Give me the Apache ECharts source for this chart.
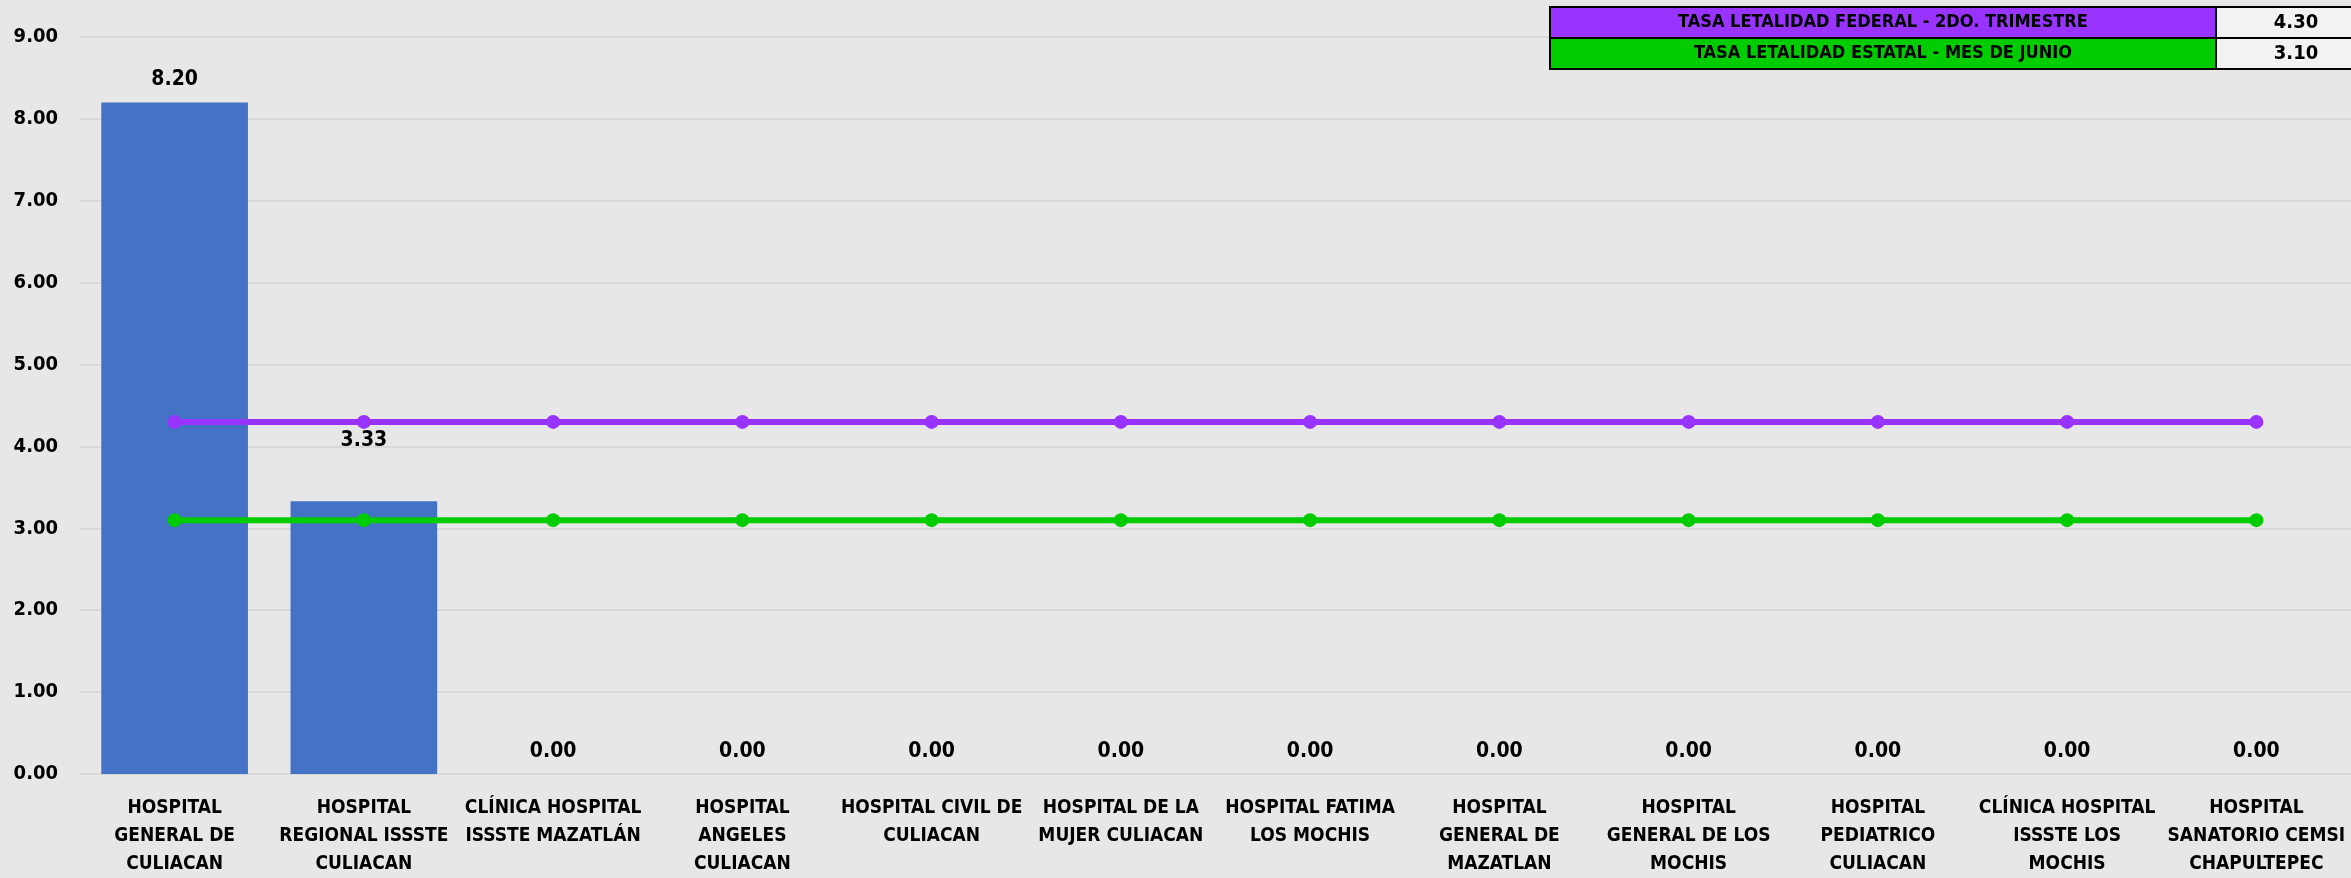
<!DOCTYPE html>
<html>
<head>
<meta charset="utf-8">
<script src="https://cdn.jsdelivr.net/npm/echarts@6/dist/echarts.min.js"></script>
<style>
html,body{margin:0;padding:0;background:#E7E7E7;}
#c{width:2351px;height:878px;}
</style>
</head>
<body>
<div id="c"></div>
<script>
const categories = [
  "HOSPITAL\nGENERAL DE\nCULIACAN",
  "HOSPITAL\nREGIONAL ISSSTE\nCULIACAN",
  "CLÍNICA HOSPITAL\nISSSTE MAZATLÁN",
  "HOSPITAL\nANGELES\nCULIACAN",
  "HOSPITAL CIVIL DE\nCULIACAN",
  "HOSPITAL DE LA\nMUJER CULIACAN",
  "HOSPITAL FATIMA\nLOS MOCHIS",
  "HOSPITAL\nGENERAL DE\nMAZATLAN",
  "HOSPITAL\nGENERAL DE LOS\nMOCHIS",
  "HOSPITAL\nPEDIATRICO\nCULIACAN",
  "CLÍNICA HOSPITAL\nISSSTE LOS\nMOCHIS",
  "HOSPITAL\nSANATORIO CEMSI\nCHAPULTEPEC"
];
const hospitalRates = [8.20, 3.33, 0, 0, 0, 0, 0, 0, 0, 0, 0, 0];
const federalName = "TASA LETALIDAD FEDERAL - 2DO. TRIMESTRE";
const estatalName = "TASA LETALIDAD ESTATAL - MES DE JUNIO";
const federalRate = 4.30;
const estatalRate = 3.10;
const federalLine = categories.map(() => federalRate);
const estatalLine = categories.map(() => estatalRate);
const yTicks = [0, 1, 2, 3, 4, 5, 6, 7, 8, 9];

const FONT = "'DejaVu Sans Condensed','Liberation Sans Narrow',sans-serif";
const chart = echarts.init(document.getElementById('c'));

// the second bar's label sits higher in the reference (moved clear of the line)
const barData = hospitalRates.map((v, i) => i === 1 ? {value: v, label: {distance: 50}} : v);

const tblX = 1550, tblY = 7, rowH = 31, leftW = 666, rightW = 140;
function row(y, color, name, val) {
  return [
    {type:'rect', shape:{x:tblX, y:y, width:leftW, height:rowH}, style:{fill:color, stroke:'#000', lineWidth:2}, z:10},
    {type:'rect', shape:{x:tblX+leftW, y:y, width:rightW, height:rowH}, style:{fill:'#F2F2F2', stroke:'#000', lineWidth:2}, z:10},
    {type:'text', x:tblX+leftW/2, y:y+rowH/2, style:{text:name, font:"bold 18px " + FONT, fill:'#000', align:'center', verticalAlign:'middle'}, z:11},
    {type:'text', x:tblX+leftW+80, y:y+rowH/2, style:{text:val.toFixed(2), font:"bold 20px " + FONT, fill:'#000', align:'center', verticalAlign:'middle'}, z:11}
  ];
}

chart.setOption({
  backgroundColor: '#E7E7E7',
  animation: false,
  grid: {left: 80, right: -6, top: 37, bottom: 97, containLabel: false},
  xAxis: {
    type: 'category',
    data: categories,
    axisLine: {show: true, lineStyle: {color: '#D9D9D9', width: 2}},
    axisTick: {show: false},
    axisLabel: {
      interval: 0,
      margin: 20,
      fontFamily: FONT,
      fontWeight: 'bold',
      fontSize: 19,
      lineHeight: 28,
      color: '#000'
    }
  },
  yAxis: {
    type: 'value',
    min: yTicks[0],
    max: yTicks[yTicks.length - 1],
    interval: 1,
    axisLine: {show: false},
    axisTick: {show: false},
    splitLine: {lineStyle: {color: '#D9D9D9', width: 2}},
    axisLabel: {
      margin: 22,
      fontFamily: FONT,
      fontWeight: 'bold',
      fontSize: 20,
      color: '#000',
      formatter: v => v.toFixed(2)
    }
  },
  series: [
    {
      type: 'bar',
      data: barData,
      barCategoryGap: '22.5%',
      itemStyle: {color: '#4472C4'},
      label: {
        show: true,
        position: 'top',
        distance: 12,
        fontFamily: FONT,
        fontWeight: 'bold',
        fontSize: 21,
        color: '#000',
        formatter: p => p.value.toFixed(2)
      },
      z: 2
    },
    {
      type: 'line',
      name: federalName,
      data: federalLine,
      symbol: 'circle',
      symbolSize: 14,
      lineStyle: {color: '#9933FF', width: 6},
      itemStyle: {color: '#9933FF'},
      z: 3
    },
    {
      type: 'line',
      name: estatalName,
      data: estatalLine,
      symbol: 'circle',
      symbolSize: 14,
      lineStyle: {color: '#00CC00', width: 6},
      itemStyle: {color: '#00CC00'},
      z: 3
    }
  ],
  graphic: [].concat(
    row(tblY, '#9933FF', federalName, federalRate),
    row(tblY + rowH, '#00CC00', estatalName, estatalRate)
  )
});
</script>
</body>
</html>
